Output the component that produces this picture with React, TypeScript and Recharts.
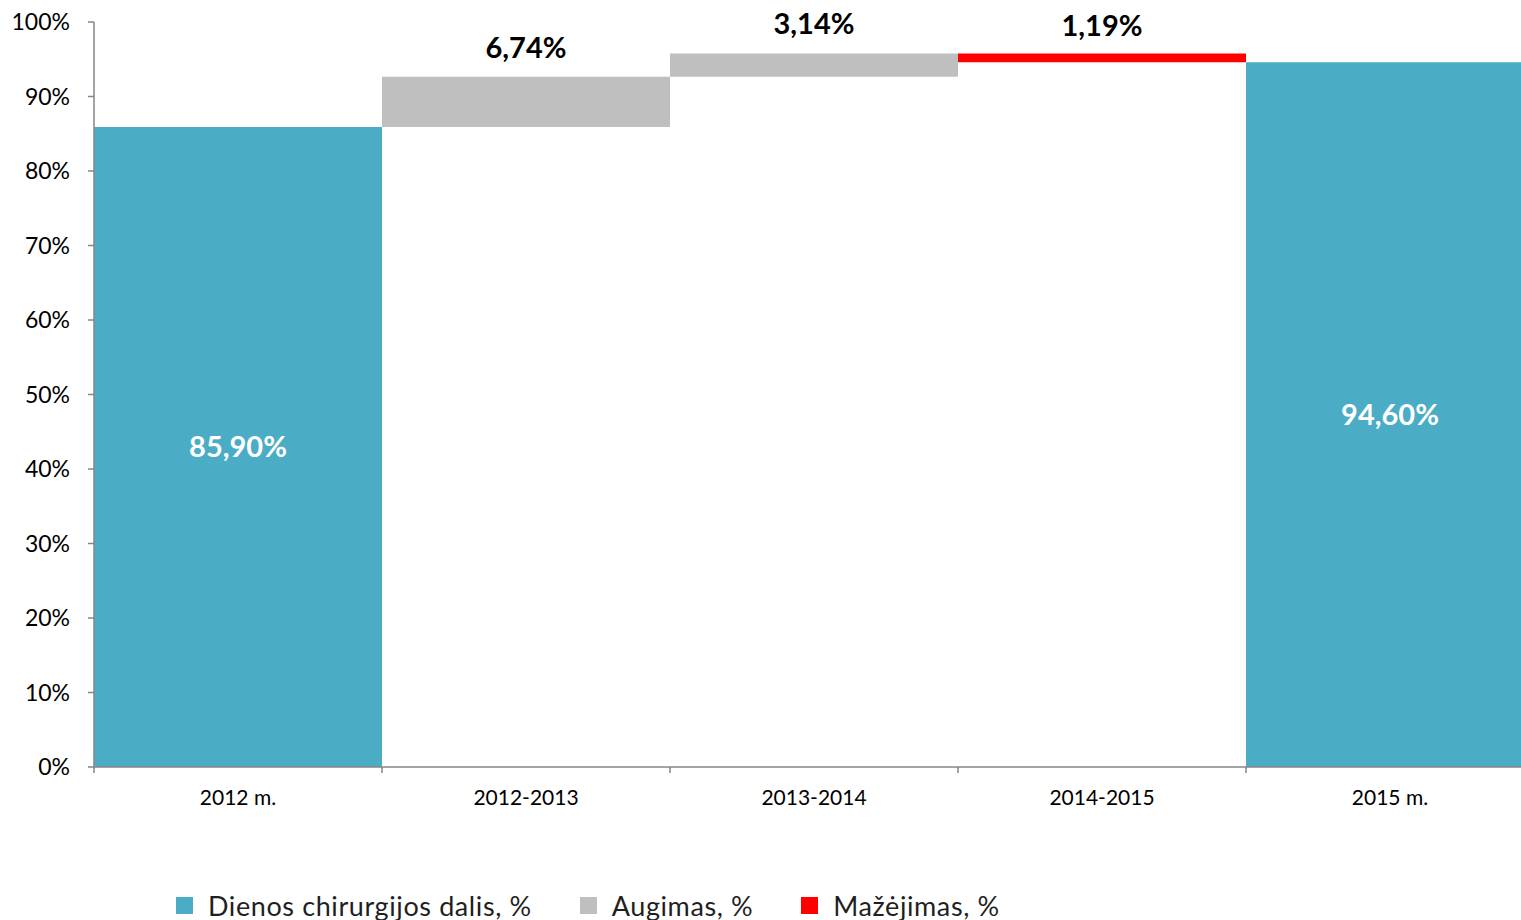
import { Bar, BarChart, LabelList, Legend, XAxis, YAxis } from 'recharts';

const CATEGORIES = ['2012 m.', '2012-2013', '2013-2014', '2014-2015', '2015 m.'];
const TOTALS = [85.9, null, null, null, 94.6];
const INCREASES = [null, 6.74, 3.14, null, null];
const DECREASES = [null, null, null, 1.19, null];
const Y_TICKS = [0, 10, 20, 30, 40, 50, 60, 70, 80, 90, 100];
const LEGEND_ORDER = ['total', 'up', 'down'];

const TEAL = '#4BACC6';
const GREY = '#BFBFBF';
const RED = '#FF0000';
const AXIS = '#868686';
const FONT = 'Lato, "Open Sans", sans-serif';

// invisible base under each floating step = running level
const data = (() => {
  let level = 0;
  return CATEGORIES.map((name, i) => {
    let base: number | null = null;
    if (TOTALS[i] != null) {
      level = TOTALS[i] as number;
    } else if (INCREASES[i] != null) {
      base = level;
      level += INCREASES[i] as number;
    } else if (DECREASES[i] != null) {
      level -= DECREASES[i] as number;
      base = level;
    }
    return { name, base, total: TOTALS[i], up: INCREASES[i], down: DECREASES[i] };
  });
})();

const fmt = (v: any) => (v == null ? '' : `${Number(v).toFixed(2).replace('.', ',')}%`);

function CategoryTick(props: any) {
  const { x, y, payload, width, visibleTicksCount, index } = props;
  const half = width / visibleTicksCount / 2;
  const axisY = y - 6;
  return (
    <g>
      <line x1={x - half} x2={x - half} y1={axisY} y2={axisY + 6} stroke={AXIS} strokeWidth={1.5} />
      {index === visibleTicksCount - 1 && (
        <line x1={x + half} x2={x + half} y1={axisY} y2={axisY + 6} stroke={AXIS} strokeWidth={1.5} />
      )}
      <text x={x} y={y + 17} dy="0.71em" textAnchor="middle" fill="#000" fontSize={21}>
        {payload.value}
      </text>
    </g>
  );
}

function LegendContent({ payload }: any) {
  const items = (payload || [])
    .filter((p: any) => LEGEND_ORDER.includes(p.dataKey))
    .sort((a: any, b: any) => LEGEND_ORDER.indexOf(a.dataKey) - LEGEND_ORDER.indexOf(b.dataKey));
  return (
    <div
      style={{
        display: 'flex',
        alignItems: 'center',
        paddingLeft: 176,
        height: 30,
        fontFamily: FONT,
        fontSize: 27,
        letterSpacing: 0.6,
        color: '#1F1F1F',
        whiteSpace: 'nowrap',
      }}
    >
      {items.map((p: any) => (
        <span key={p.value} style={{ display: 'flex', alignItems: 'center', marginRight: 48 }}>
          <span style={{ width: 17, height: 17, background: p.color, marginRight: 15 }} />
          {p.value}
        </span>
      ))}
    </div>
  );
}

export default function App() {
  return (
    <div
      style={{
        position: 'absolute',
        left: 0,
        top: 0,
        width: 1521,
        height: 920,
        overflow: 'hidden',
        background: '#fff',
        fontFamily: FONT,
      }}
    >
      <BarChart
        width={1560}
        height={920}
        data={data}
        margin={{ top: 22, right: 26, left: 0, bottom: 0 }}
        barCategoryGap={0}
        barGap={0}
      >
        <XAxis
          dataKey="name"
          height={123}
          axisLine={{ stroke: AXIS, strokeWidth: 1.5 }}
          tickLine={false}
          tickSize={6}
          tickMargin={0}
          interval={0}
          tick={<CategoryTick />}
        />
        <YAxis
          domain={[0, 100]}
          ticks={Y_TICKS}
          width={94}
          tickFormatter={(v) => `${v}%`}
          tick={{ fill: '#000', fontSize: 23 }}
          axisLine={{ stroke: AXIS, strokeWidth: 1.5 }}
          tickLine={{ stroke: AXIS, strokeWidth: 1.5 }}
          tickSize={6}
          tickMargin={18}
        />
        <Legend
          verticalAlign="bottom"
          align="left"
          height={30}
          wrapperStyle={{ left: 0 }}
          content={<LegendContent />}
        />
        <Bar dataKey="base" stackId="w" fill="transparent" legendType="none" isAnimationActive={false} />
        <Bar dataKey="total" name="Dienos chirurgijos dalis, %" stackId="w" fill={TEAL} isAnimationActive={false}>
          <LabelList dataKey="total" position="center" formatter={fmt} fill="#fff" fontSize={29} fontWeight={700} />
        </Bar>
        <Bar dataKey="up" name="Augimas, %" stackId="w" fill={GREY} isAnimationActive={false}>
          <LabelList dataKey="up" position="top" offset={19} formatter={fmt} fill="#000" fontSize={29} fontWeight={700} />
        </Bar>
        <Bar dataKey="down" name="Mažėjimas, %" stackId="w" fill={RED} isAnimationActive={false}>
          <LabelList dataKey="down" position="top" offset={17} formatter={fmt} fill="#000" fontSize={29} fontWeight={700} />
        </Bar>
      </BarChart>
    </div>
  );
}
